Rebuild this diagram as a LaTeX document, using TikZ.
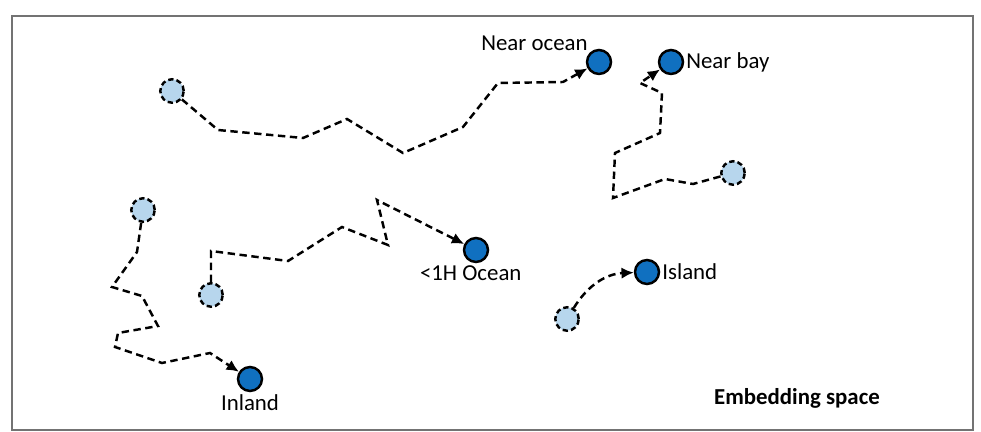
\documentclass[tikz,border=0pt]{standalone}
\usepackage{fontspec}
\setmainfont{Carlito}
\usepackage{tikz}
\usetikzlibrary{arrows.meta, positioning, shapes}
\definecolor{pointblue}{RGB}{16,112,192}
\definecolor{startblue}{RGB}{183,214,237}
\definecolor{framegray}{gray}{0.45}

\begin{document}
\begin{tikzpicture}[x=0.02cm, y=-0.02cm,
	target/.style={circle, draw, line width=1.4pt, fill=pointblue, minimum size=0.48cm, inner sep=0pt},
	start/.style={circle, draw, line width=1.4pt, dash pattern=on 3pt off 1.8pt, fill=startblue, minimum size=0.47cm, inner sep=0pt},
	walk/.style={line width=1.4pt, dash pattern=on 4.2pt off 2.6pt, -{Latex[length=7pt, width=6.5pt]}},
	every label/.style={font=\fontsize{13}{15}\selectfont, inner sep=1pt}]

\useasboundingbox (0,0) rectangle (981,432);
\draw[framegray, line width=1.2pt] (12,16) rectangle (973,430); % frame

% end points
\node[target, label={above left:Near ocean}] (nocean) at (599,62) {};
\node[target, label={right:Near bay}]        (nbay)   at (671,62) {};
\node[target, label={[xshift=-3pt]below:<1H Ocean}] (hocean) at (476,250) {};
\node[target, label={right:Island}]          (island) at (647,272) {};
\node[target, label={below:Inland}]          (inland) at (250,379) {};

% start points
\node[start] (sa) at (172,91) {};
\node[start] (sb) at (143,210) {};
\node[start] (sc) at (211,295) {};
\node[start] (sd) at (733,173) {};
\node[start] (se) at (567,319) {};

% walks
\draw[walk] (sa) -- (218,130) -- (303,138) -- (347,119) -- (403,153) -- (463,127)
	-- (498,83) -- (563,82) -- (nocean);
\draw[walk] (sd) -- (693,184) -- (665,179) -- (613,198) -- (615,153) -- (660,133)
	-- (662,93) -- (640,83) -- (nbay);
\draw[walk] (sb) -- (137,252) -- (112,287) -- (142,296) -- (158,326) -- (118,333)
	-- (115,347) -- (162,363) -- (210,353) -- (inland);
\draw[walk] (sc) -- (211,251) -- (288,261) -- (342,227) -- (388,245) -- (377,200)
	-- (hocean);
\draw[walk] (se) to[bend left=28] (island);

\node[font=\fontsize{13}{15}\selectfont\bfseries] (space) at (797,398) {Embedding space};

\end{tikzpicture}
\end{document}
